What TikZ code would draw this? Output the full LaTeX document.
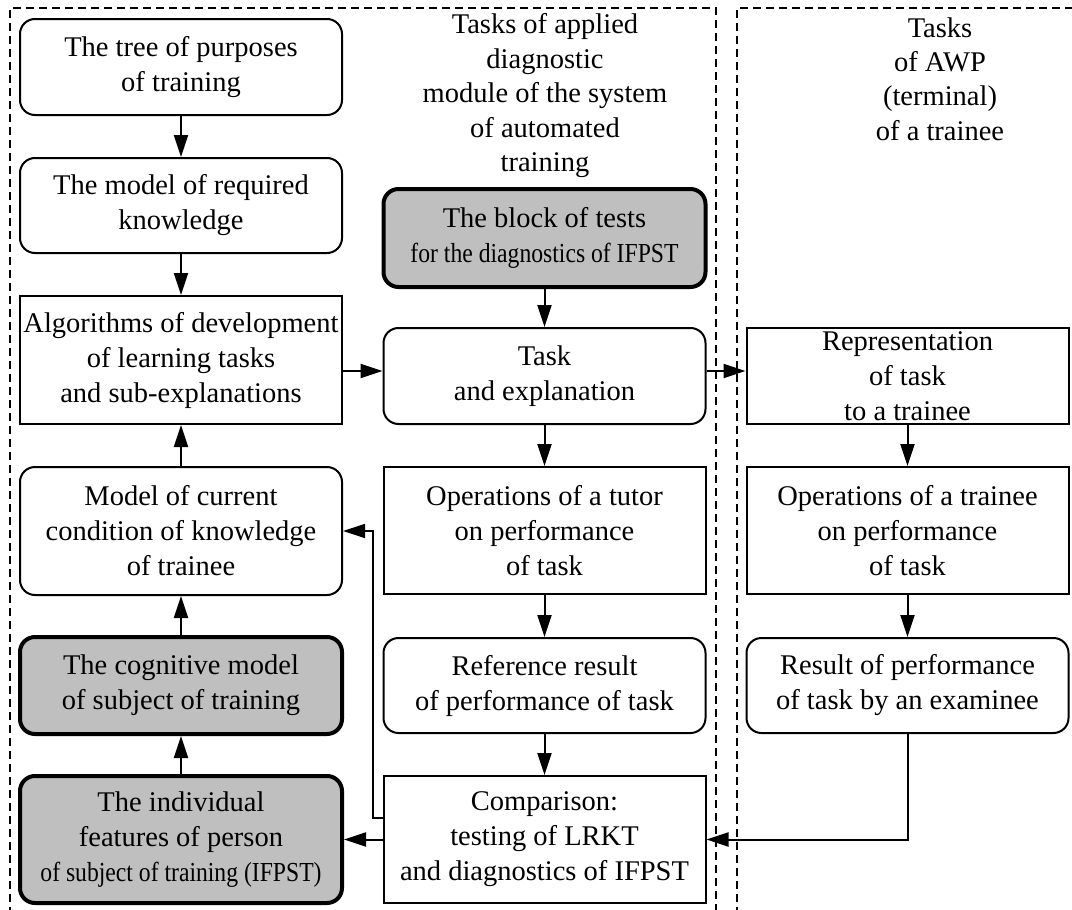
\documentclass[tikz,border=0pt]{standalone}
\usepackage{fontspec}
\setmainfont{Liberation Serif}
\newfontfamily\narrowfont[FakeStretch=0.86]{Liberation Serif}
\usetikzlibrary{arrows.meta}

\begin{document}
\begin{tikzpicture}[
        x=1pt, y=-1pt,
        every node/.style={
            align=center,
            inner sep=0pt,
            font=\fontsize{28.5}{35}\selectfont
        },
        box/.style={draw=black, fill=white, line width=2pt, minimum width=322pt},
        rbox/.style={box, rounded corners=15pt},
        gbox/.style={rbox, fill=black!25, line width=4pt},
        arr/.style={line width=2pt, -{Triangle[length=22pt,width=14pt]}},
        frame/.style={line width=1.5pt, dash pattern=on 8pt off 5pt}
    ]
    \useasboundingbox (0,0) rectangle (1072,910);

    % Frames
    \draw[frame] (10,915) -- (10,8) -- (716,8) -- (716,915);
    \draw[frame] (737,915) -- (737,8) -- (1080,8);

    % Titles
    \node[font=\fontsize{28.5}{34.5}\selectfont] (tmid) at (545,96)
        {Tasks of applied\\diagnostic\\module of the system\\of automated\\training};
    \node[font=\fontsize{28.5}{34.5}\selectfont] (tright) at (940,79)
        {Tasks\\of AWP\\(terminal)\\of a trainee};

    % Left column
    \node[rbox, minimum height=96pt]  (tree) at (181,67)    {The tree of purposes\\of training};
    \node[rbox, minimum height=95pt]  (req)  at (181,205.5) {The model of required\\knowledge};
    \node[box,  minimum height=128pt] (alg)  at (181,360)   {Algorithms of development\\of learning tasks\\and sub-explanations};
    \node[rbox, minimum height=128pt] (cur)  at (181,531)   {Model of current\\condition of knowledge\\of trainee};
    \node[gbox, minimum height=97pt]  (cog)  at (181,685.5) {The cognitive model\\of subject of training};
    \node[gbox, minimum height=127pt] (ind)  at (181,839.5)
        {The individual\\features of person\\{\narrowfont\fontsize{27.5}{33}\selectfont of subject of training (IFPST)}};

    % Middle column
    \node[gbox, minimum height=98pt]  (tests) at (544.5,238)
        {The block of tests\\{\narrowfont\fontsize{27.5}{33}\selectfont for the diagnostics of IFPST}};
    \node[rbox, minimum height=96pt]  (task)  at (544.5,376)   {Task\\and explanation};
    \node[box,  minimum height=127pt] (opsT)  at (544.5,530.5) {Operations of a tutor\\on performance\\of task};
    \node[rbox, minimum height=95pt]  (ref)   at (544.5,685.5) {Reference result\\of performance of task};
    \node[box,  minimum height=127pt] (cmp)   at (544.5,839.5) {Comparison:\\testing of LRKT\\and diagnostics of IFPST};

    % Right column
    \node[box,  minimum height=96pt]  (rep)  at (907.5,376)   {Representation\\of task\\to a trainee};
    \node[box,  minimum height=127pt] (opsS) at (907.5,530.5) {Operations of a trainee\\on performance\\of task};
    \node[rbox, minimum height=95pt]  (res)  at (907.5,685.5) {Result of performance\\of task by an examinee};

    \coordinate (ya) at (0,371);
    \coordinate (fb) at (373,818);

    % Arrows
    \draw[arr] (tree) -- (req);
    \draw[arr] (req) -- (alg);
    \draw[arr] (cur) -- (alg);
    \draw[arr] (cog) -- (cur);
    \draw[arr] (ind) -- (cog);
    \draw[arr] (tests) -- (task);
    \draw[arr] (task) -- (opsT);
    \draw[arr] (opsT) -- (ref);
    \draw[arr] (ref) -- (cmp);
    \draw[arr] (rep) -- (opsS);
    \draw[arr] (opsS) -- (res);
    \draw[arr] (alg.east |- ya) -- (task.west |- ya);
    \draw[arr] (task.east |- ya) -- (rep.west |- ya);
    \draw[arr] (cmp.west) -- (ind.east);
    \draw[arr] (res.south) |- (cmp.east);
    \draw[arr, line width=1.3pt] (cmp.west |- fb) -- (fb) |- (cur.east);

\end{tikzpicture}
\end{document}
